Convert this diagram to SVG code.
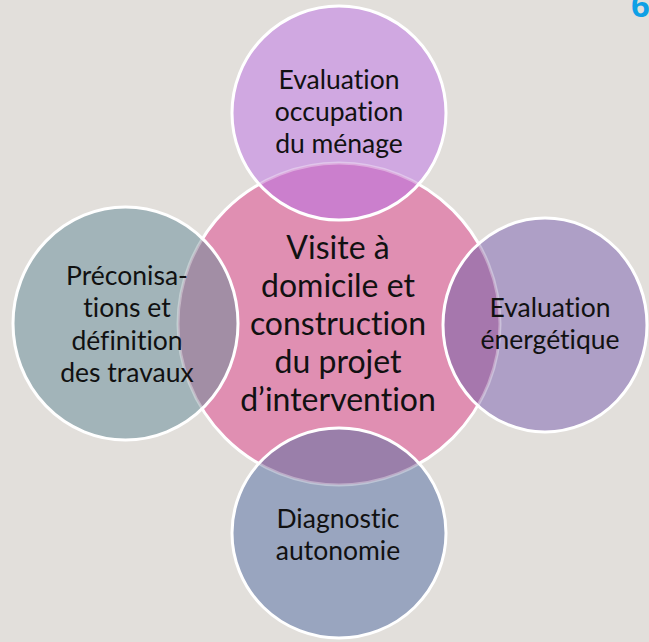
<svg xmlns="http://www.w3.org/2000/svg" width="649" height="642" viewBox="0 0 649 642">
<style>
.lbl{font-family:Lato,"Liberation Sans",sans-serif;fill:#111;text-anchor:middle;font-variant-ligatures:none}
.sat{font-size:26.5px}
.ctr{font-size:32px}
.edge{fill:none;stroke:#fff;stroke-width:3}
.faint{fill:none;stroke:#fff;stroke-width:3;stroke-opacity:.35}
</style>
<defs>
<clipPath id="cc"><circle cx="339" cy="324" r="161"/></clipPath>
<clipPath id="ct"><ellipse cx="339" cy="113" rx="107" ry="107"/></clipPath>
<clipPath id="cl"><ellipse cx="125.5" cy="323.5" rx="112.5" ry="116.5"/></clipPath>
<clipPath id="cr"><ellipse cx="545" cy="325" rx="102" ry="107"/></clipPath>
<clipPath id="cb"><ellipse cx="339" cy="533" rx="107" ry="105"/></clipPath>
</defs>
<rect width="649" height="642" fill="#e2dfdb"/>
<text x="631" y="17" font-family="Liberation Sans,sans-serif" font-weight="bold" font-size="34" fill="#0ea0e6">6</text>
<g id="center">
<circle cx="339" cy="324" r="161" fill="#e08fb2" stroke="#fff" stroke-width="3"/>
</g>
<g id="top">
<ellipse cx="339" cy="113" rx="107" ry="107" fill="#d0a8e1"/>
<ellipse cx="339" cy="113" rx="107" ry="107" fill="#cb7fcd" clip-path="url(#cc)"/>
<circle cx="339" cy="324" r="161" class="faint" clip-path="url(#ct)"/>
<ellipse cx="339" cy="113" rx="107" ry="107" class="edge"/>
<text class="lbl sat"><tspan x="339" y="89">Evaluation</tspan><tspan x="339" y="121">occupation</tspan><tspan x="339" y="153">du ménage</tspan></text>
</g>
<g id="left">
<ellipse cx="125.5" cy="323.5" rx="112.5" ry="116.5" fill="#a2b4b9"/>
<ellipse cx="125.5" cy="323.5" rx="112.5" ry="116.5" fill="#a28ea5" clip-path="url(#cc)"/>
<circle cx="339" cy="324" r="161" class="faint" clip-path="url(#cl)"/>
<ellipse cx="125.5" cy="323.5" rx="112.5" ry="116.5" class="edge"/>
<text class="lbl sat"><tspan x="127" y="285">Préconisa-</tspan><tspan x="127" y="317">tions et</tspan><tspan x="127" y="350">définition</tspan><tspan x="127" y="382">des travaux</tspan></text>
</g>
<g id="right">
<ellipse cx="545" cy="325" rx="102" ry="107" fill="#ae9fc6"/>
<ellipse cx="545" cy="325" rx="102" ry="107" fill="#a677ad" clip-path="url(#cc)"/>
<circle cx="339" cy="324" r="161" class="faint" clip-path="url(#cr)"/>
<ellipse cx="545" cy="325" rx="102" ry="107" class="edge"/>
<text class="lbl sat"><tspan x="550" y="317">Evaluation</tspan><tspan x="550" y="349">énergétique</tspan></text>
</g>
<g id="bottom">
<ellipse cx="339" cy="533" rx="107" ry="105" fill="#99a5bf"/>
<ellipse cx="339" cy="533" rx="107" ry="105" fill="#9a7faa" clip-path="url(#cc)"/>
<circle cx="339" cy="324" r="161" class="faint" clip-path="url(#cb)"/>
<ellipse cx="339" cy="533" rx="107" ry="105" class="edge"/>
<text class="lbl sat"><tspan x="338" y="528">Diagnostic</tspan><tspan x="338" y="560">autonomie</tspan></text>
</g>
<g id="center-label">
<text class="lbl ctr"><tspan x="338" y="259">Visite à</tspan><tspan x="338" y="297">domicile et</tspan><tspan x="338" y="335">construction</tspan><tspan x="338" y="373">du projet</tspan><tspan x="338" y="411">d’intervention</tspan></text>
</g>
<g id="connectors"/>
</svg>
